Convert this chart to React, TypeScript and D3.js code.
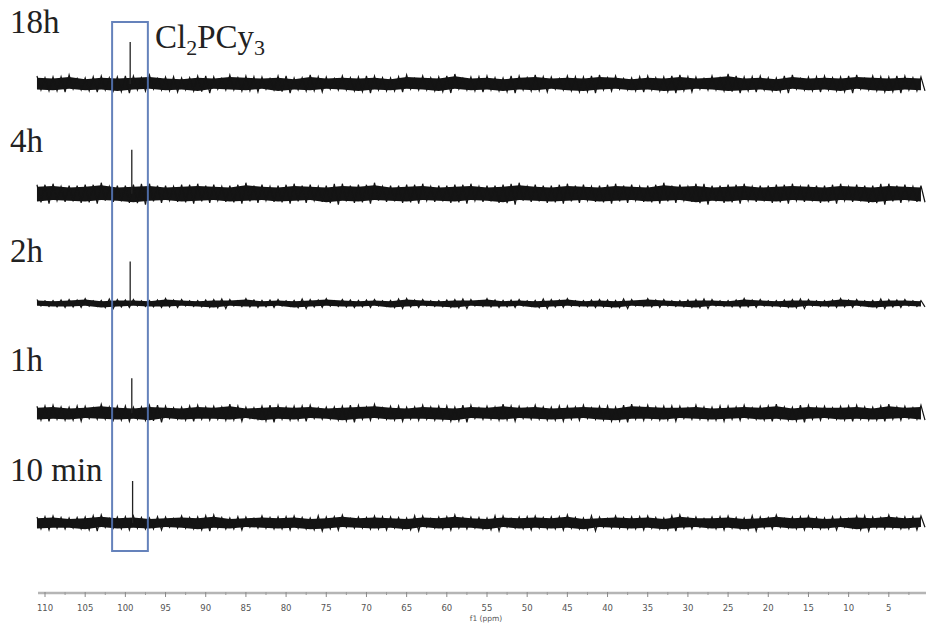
import React from 'react'
import * as d3 from 'd3'

// time labels, top to bottom
const labels = ['18h', '4h', '2h', '1h', '10 min']

// noise envelope (px-ish intensity units) sampled every 2 ppm from 111 down to 1
const noiseHi = [
  [8,7,9,6,8,7,8,9, 7,6,8,7,9,8,7,8, 6,9,7,8,7,8,6,9, 8,7,10,7,8,6,8,9, 7,8,7,9,8,6,8,7, 9,7,8,10,7,8,6,9, 7,8,7,9,8,7,8,7],
  [9,10,8,9,11,8,9,10, 8,9,10,9,8,11,9,8, 10,9,8,10,9,11,8,9, 10,8,9,10,8,9,11,9, 8,10,9,8,10,9,8,11, 9,10,8,9,10,8,9,10, 9,8,10,9,8,10,9,8],
  [4,3,4,5,3,4,4,3, 5,4,3,4,4,5,3,4, 3,4,5,4,3,4,3,5, 4,3,4,4,5,3,4,3, 4,5,3,4,3,4,5,4, 3,4,4,3,5,4,3,4, 4,3,5,4,3,4,4,3],
  [7,8,6,7,9,7,6,8, 7,6,8,7,9,6,7,8, 7,8,6,7,8,9,7,6, 8,7,6,8,7,9,7,8, 6,7,8,7,6,9,8,7, 7,8,6,7,8,7,9,6, 8,7,7,8,6,9,7,8],
  [6,7,5,6,8,6,7,5, 6,7,6,8,5,6,7,6, 7,5,6,8,6,7,6,5, 7,6,8,6,5,7,6,7, 6,8,5,6,7,6,7,5, 8,6,6,7,5,6,8,6, 7,5,6,7,6,8,6,7],
]
const noiseLo = [
  [7,8,6,8,7,9,7,6, 8,7,9,6,7,8,6,9, 7,8,6,7,9,7,8,6, 7,9,6,8,7,9,7,8, 6,8,9,7,6,8,7,9, 8,6,7,9,8,7,9,6, 8,7,9,6,8,9,7,8],
  [10,8,9,10,8,9,11,9, 8,10,9,8,10,9,8,10, 9,8,11,9,10,8,9,10, 8,9,10,8,9,11,8,9, 10,9,8,10,9,8,10,9, 8,11,9,10,8,9,10,8, 9,10,8,9,11,9,8,10],
  [3,4,4,3,5,4,3,4, 4,3,4,5,3,4,4,3, 5,4,3,4,4,3,5,4, 3,4,5,3,4,4,3,5, 4,3,4,4,5,3,4,3, 4,5,3,4,4,3,4,5, 3,4,4,3,5,4,3,4],
  [8,7,8,6,7,8,7,9, 6,8,7,7,8,6,9,7, 8,6,7,9,7,6,8,7, 7,8,9,6,7,8,6,7, 8,7,6,8,9,7,7,8, 6,7,8,7,6,8,7,9, 7,6,8,7,8,7,6,8],
  [7,6,6,8,5,7,6,7, 5,6,8,6,7,5,6,7, 6,8,7,5,6,7,6,8, 5,7,6,6,8,5,7,6, 7,6,8,5,6,7,6,8, 6,5,7,6,8,6,5,7, 6,7,5,8,6,6,7,5],
]

// Cl2PCy3 signal per spectrum
const peakPpm = [99.4, 99.2, 99.4, 99.2, 99.1]
const peakHeight = [42, 44, 42, 35, 42]

const majorTicks = [110, 105, 100, 95, 90, 85, 80, 75, 70, 65, 60, 55, 50, 45, 40, 35, 30, 25, 20, 15, 10, 5]
const minorTicks = [107.5, 102.5, 97.5, 92.5, 87.5, 82.5, 77.5, 72.5, 67.5, 62.5, 57.5, 52.5, 47.5, 42.5, 37.5, 32.5, 27.5, 22.5, 17.5, 12.5, 7.5, 2.5]

const W = 926
const H = 624

export default function App() {
  const x = d3.scaleLinear().domain([110, 0]).range([45, 929])
  const rowY = d3.scalePoint<string>().domain(labels).range([84, 523])
  const amp = d3.scaleLinear().domain([0, 10]).range([0, 10])
  const gridPpm = d3.range(111, 0, -2)
  const serif = "'Liberation Serif', 'Times New Roman', serif"

  const boxX0 = x(101.65)
  const boxX1 = x(97.2)

  return (
    <svg width={W} height={H} style={{ position: 'absolute', left: 0, top: 0, background: '#fff' }}>
      {labels.map((lab, i) => {
        const y0 = rowY(lab) as number
        const pts = gridPpm.map((p, j) => ({ p, hi: noiseHi[i][j] ?? 6, lo: noiseLo[i][j] ?? 6 }))
        // dense core of the noise band
        const core = d3.area<any>()
          .x(d => x(d.p))
          .y0(d => y0 + amp(d.lo) * 0.78)
          .y1(d => y0 - amp(d.hi) * 0.78)
        // zigzag noise trace: up at each grid point, down in between
        const zig: [number, number][] = []
        pts.forEach(d => {
          zig.push([x(d.p), y0 - amp(d.hi)])
          zig.push([x(d.p - 0.5), y0 + amp(d.lo) * 0.85])
          zig.push([x(d.p - 1), y0 - amp(d.lo) * 0.9])
          zig.push([x(d.p - 1.5), y0 + amp(d.lo)])
        })
        const zigPath = d3.line()(zig.filter(q => q[0] <= 926)) || ''
        return (
          <g key={lab}>
            <path d={core(pts) || ''} fill="#141414" />
            <path d={zigPath} fill="none" stroke="#141414" strokeWidth={1.2} />
            <line x1={x(peakPpm[i])} x2={x(peakPpm[i])} y1={y0} y2={y0 - amp(peakHeight[i])} stroke="#222" strokeWidth={1.3} />
            <text x={10} y={y0 - (i === 0 ? 51 : 42)} fontFamily={serif} fontSize={33} fill="#222">{lab}</text>
          </g>
        )
      })}

      <text x={155} y={48} fontFamily={serif} fontSize={33} fill="#222">
        Cl<tspan fontSize={22} dy={7}>2</tspan><tspan dy={-7}>PCy</tspan><tspan fontSize={22} dy={7}>3</tspan>
      </text>

      <rect x={boxX0} y={22} width={boxX1 - boxX0} height={529} fill="none" stroke="#5474b4" strokeWidth={2} opacity={0.9} />

      <g>
        <line x1={38} x2={926} y1={593} y2={593} stroke="#b5b5b5" strokeWidth={2.5} />
        {majorTicks.map(t => (
          <g key={t}>
            <line x1={x(t)} x2={x(t)} y1={592} y2={597} stroke="#888" strokeWidth={1} />
            <text x={x(t)} y={611} textAnchor="middle" fontFamily="'DejaVu Sans', sans-serif" fontSize={8.5} fill="#555">{t}</text>
          </g>
        ))}
        {minorTicks.map(t => (
          <line key={t} x1={x(t)} x2={x(t)} y1={592} y2={595} stroke="#999" strokeWidth={1} />
        ))}
        <text x={486} y={621} textAnchor="middle" fontFamily="'DejaVu Sans', sans-serif" fontSize={7.5} fill="#555">f1 (ppm)</text>
      </g>
    </svg>
  )
}
